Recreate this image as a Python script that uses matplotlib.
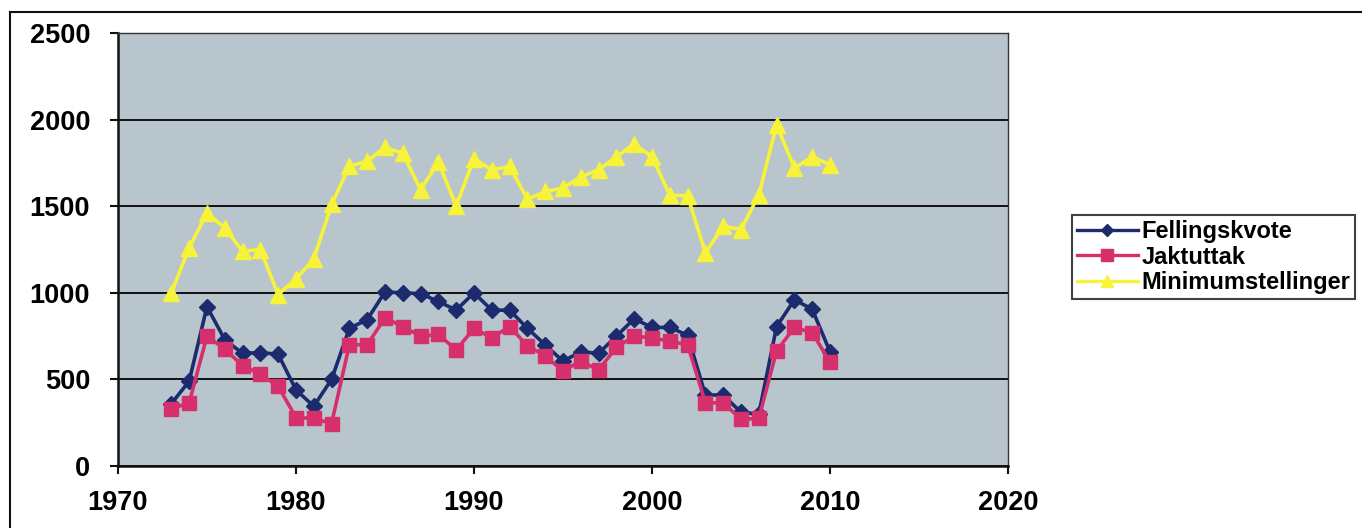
import matplotlib
matplotlib.use("Agg")
import matplotlib.pyplot as plt
from matplotlib.lines import Line2D

plt.rcParams["font.family"] = ["Liberation Sans", "DejaVu Sans"]

YEARS = list(range(1973, 2011))
FELLINGSKVOTE = [
    360, 490, 920, 730, 650, 655, 645, 440, 345, 500,
    795, 845, 1005, 1000, 995, 950, 900, 1000, 900, 900,
    795, 700, 605, 660, 650, 750, 850, 800, 800, 755,
    410, 410, 310, 300, 805, 960, 905, 660,
]
JAKTUTTAK = [
    330, 365, 750, 675, 580, 530, 460, 280, 275, 245,
    700, 700, 855, 805, 750, 760, 670, 795, 740, 805,
    695, 635, 550, 605, 555, 685, 750, 740, 720, 700,
    365, 365, 270, 275, 665, 800, 770, 600,
]
MINIMUMSTELLINGER = [
    1000, 1260, 1460, 1375, 1240, 1250, 990, 1080, 1195, 1510,
    1730, 1760, 1840, 1805, 1595, 1755, 1500, 1775, 1710, 1730,
    1540, 1585, 1605, 1670, 1710, 1785, 1860, 1785, 1565, 1560,
    1230, 1385, 1365, 1565, 1970, 1720, 1785, 1740,
]
SERIES = [
    ("Fellingskvote", FELLINGSKVOTE, "#1c2a6e", "D", 8),
    ("Jaktuttak", JAKTUTTAK, "#d6306c", "s", 10),
    ("Minimumstellinger", MINIMUMSTELLINGER, "#f7f23a", "^", 11),
]

fig = plt.figure(figsize=(13.62, 5.28), dpi=100)
ax = fig.add_axes([0.0866, 0.1174, 0.6535, 0.8201])
ax.set_facecolor("#b9c5cc")

for label, values, color, marker, size in SERIES:
    ax.plot(YEARS, values, color=color, linewidth=2.6, marker=marker,
            markersize=size, markeredgecolor=color, label=label, zorder=3)

ax.set_xlim(1970, 2020)
ax.set_ylim(0, 2500)
ax.set_xticks([1970, 1980, 1990, 2000, 2010, 2020])
ax.set_yticks([0, 500, 1000, 1500, 2000, 2500])
ax.yaxis.grid(True, color="#111111", linewidth=1.4)
ax.set_axisbelow(True)
ax.tick_params(axis="both", direction="out", length=6, width=1.5,
               labelsize=19.5, color="#111111")
ax.tick_params(axis="y", pad=14)
ax.tick_params(axis="x", pad=11)
for t in ax.get_xticklabels() + ax.get_yticklabels():
    t.set_fontweight("bold")
for side in ["top", "right"]:
    ax.spines[side].set_color("#333333")
    ax.spines[side].set_linewidth(1.0)
for side in ["left", "bottom"]:
    ax.spines[side].set_color("#111111")
    ax.spines[side].set_linewidth(1.8)

handles = [
    Line2D([], [], color=c, marker=m, markersize=s * 0.8, markeredgecolor=c, linewidth=2.4)
    for _, _, c, m, s in SERIES
]
leg = fig.legend(handles, [s[0] for s in SERIES], loc="upper left",
                 bbox_to_anchor=(0.787, 0.592), fontsize=17, frameon=True,
                 fancybox=False, edgecolor="#111111", borderpad=0.2,
                 labelspacing=0.1, handlelength=2.6, handletextpad=0.15,
                 borderaxespad=0)
leg.get_frame().set_linewidth(1.5)
for t in leg.get_texts():
    t.set_fontweight("bold")

# outer chart frame (top and left edges visible)
fig.add_artist(Line2D([0.0075, 1.0], [0.978, 0.978], color="#111111", linewidth=1.5))
fig.add_artist(Line2D([0.0075, 0.0075], [0.0, 0.978], color="#111111", linewidth=1.5))

fig.savefig("out.png", dpi=100)
